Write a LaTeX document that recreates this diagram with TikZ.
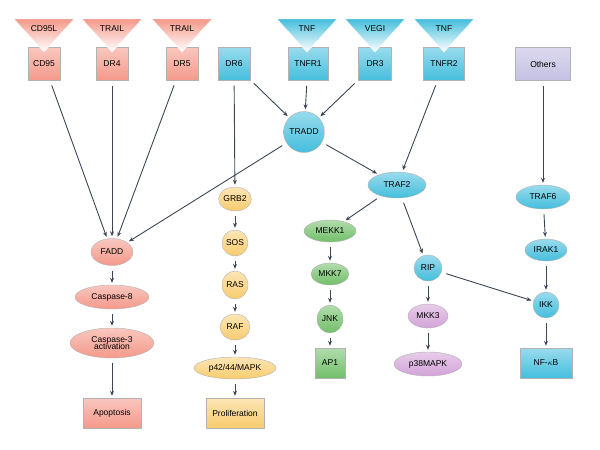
\documentclass[tikz,border=0pt]{standalone}
\usepackage{fontspec}
\setmainfont{Liberation Sans}
\usetikzlibrary{arrows.meta, shapes.geometric}
\definecolor{salmon}{HTML}{F4998A}
\definecolor{sky}{HTML}{45BEDD}
\definecolor{gold}{HTML}{F8CC6E}
\definecolor{leaf}{HTML}{72BF6A}
\definecolor{lilac}{HTML}{D3A3D8}
\definecolor{lav}{HTML}{C4C0E2}
\definecolor{wire}{HTML}{3B4654}
\tikzset{
  mol/.style={ellipse, draw=gray!60, inner sep=0pt, font=\fontsize{8.5}{9}\selectfont, align=center},
  box/.style={rectangle, draw=gray!60, inner sep=0pt, font=\fontsize{8.5}{9}\selectfont},
  red/.style={top color=salmon!55, bottom color=salmon},
  blue/.style={top color=sky!55, bottom color=sky},
  yel/.style={top color=gold!50, bottom color=gold},
  grn/.style={top color=leaf!55, bottom color=leaf},
  pur/.style={top color=lilac!55, bottom color=lilac},
  arr/.style={-{Stealth[length=5pt,width=4pt]}, draw=wire, line width=0.9pt, shorten >=2pt, shorten <=5pt}
}
\begin{document}
\begin{tikzpicture}[x=1pt,y=-1pt]
  \useasboundingbox (0,0) rectangle (600,450);
  % receptors
  \node[box,red,minimum width=32,minimum height=33] (cd95) at (44,64) {CD95};
  \node[box,red,minimum width=32,minimum height=33] (dr4) at (112,64) {DR4};
  \node[box,red,minimum width=32,minimum height=33] (dr5) at (182,64) {DR5};
  \node[box,blue,minimum width=32,minimum height=33] (dr6) at (234,64) {DR6};
  \node[box,blue,minimum width=40,minimum height=33] (tnfr1) at (308,64) {TNFR1};
  \node[box,blue,minimum width=33,minimum height=33] (dr3) at (375,64) {DR3};
  \node[box,blue,minimum width=41,minimum height=33] (tnfr2) at (444,64) {TNFR2};
  \node[box,top color=lav!60,bottom color=lav,minimum width=55,minimum height=33] (others) at (543,64) {Others};
  % ligands
  \foreach \x/\t/\c in {44/CD95L/salmon, 112/TRAIL/salmon, 182/TRAIL/salmon, 307/TNF/sky, 375/VEGI/sky, 444/TNF/sky}{
    \shade[top color=\c, bottom color=white, draw=white] (\x-30,19) -- (\x+30,19) -- (\x,52) -- cycle;
    \node[font=\fontsize{8.5}{9}\selectfont] at (\x,29) {\t};
  }
  % adaptors
  \node[mol,blue,circle,minimum size=41] (tradd) at (304,132) {TRADD};
  \node[mol,blue,minimum width=58,minimum height=26] (traf2) at (397,185) {TRAF2};
  \node[mol,blue,minimum width=54,minimum height=24] (traf6) at (543,197) {TRAF6};
  % apoptosis branch
  \node[mol,red,minimum width=42,minimum height=27] (fadd) at (112,252) {FADD};
  \node[mol,red,minimum width=74,minimum height=24] (casp8) at (112,297) {Caspase-8};
  \node[mol,red,minimum width=84,minimum height=30] (casp3) at (112,343) {Caspase-3\\[-2pt]activation};
  \node[box,red,minimum width=58,minimum height=30] (apop) at (112,413) {Apoptosis};
  % proliferation branch
  \node[mol,yel,minimum width=32,minimum height=24] (grb2) at (235,199) {GRB2};
  \node[mol,yel,minimum width=26,minimum height=26] (sos) at (235,243) {SOS};
  \node[mol,yel,minimum width=26,minimum height=28] (ras) at (235,285) {RAS};
  \node[mol,yel,minimum width=30,minimum height=26] (raf) at (235,327) {RAF};
  \node[mol,yel,minimum width=82,minimum height=22] (mapk) at (235,368) {p42/44/MAPK};
  \node[box,yel,minimum width=58,minimum height=30] (prolif) at (235,413) {Proliferation};
  % JNK branch
  \node[mol,grn,minimum width=52,minimum height=22] (mekk1) at (330,231) {MEKK1};
  \node[mol,grn,minimum width=38,minimum height=22] (mkk7) at (330,274) {MKK7};
  \node[mol,grn,minimum width=26,minimum height=28] (jnk) at (330,319) {JNK};
  \node[box,grn,minimum width=30,minimum height=30] (ap1) at (330,363) {AP1};
  % p38 branch
  \node[mol,blue,minimum width=28,minimum height=26] (rip) at (428,268) {RIP};
  \node[mol,pur,minimum width=40,minimum height=24] (mkk3) at (428,316) {MKK3};
  \node[mol,pur,minimum width=68,minimum height=24] (p38) at (428,364) {p38MAPK};
  % NF-kB branch
  \node[mol,blue,minimum width=42,minimum height=22] (irak1) at (546,250) {IRAK1};
  \node[mol,blue,minimum width=26,minimum height=26] (ikk) at (546,305) {IKK};
  \node[box,blue,minimum width=52,minimum height=30] (nfkb) at (546,363) {NF-$\kappa$B};
  % connectors
  \draw[arr] (cd95) -- (fadd);
  \draw[arr] (dr4) -- (fadd);
  \draw[arr] (dr5) -- (fadd);
  \draw[arr] (tradd) -- (fadd);
  \draw[arr] (dr6) -- (grb2);
  \draw[arr] (dr6) -- (tradd);
  \draw[arr] (tnfr1) -- (tradd);
  \draw[arr] (dr3) -- (tradd);
  \draw[arr] (tradd) -- (traf2);
  \draw[arr] (tnfr2) -- (traf2);
  \draw[arr] (traf2) -- (mekk1);
  \draw[arr] (traf2) -- (rip);
  \draw[arr] (others) -- (traf6);
  \draw[arr] (traf6) -- (irak1);
  \draw[arr] (irak1) -- (ikk);
  \draw[arr] (rip) -- (ikk);
  \draw[arr] (ikk) -- (nfkb);
  \draw[arr] (rip) -- (mkk3);
  \draw[arr] (mkk3) -- (p38);
  \draw[arr] (mekk1) -- (mkk7);
  \draw[arr] (mkk7) -- (jnk);
  \draw[arr] (jnk) -- (ap1);
  \draw[arr] (grb2) -- (sos);
  \draw[arr] (sos) -- (ras);
  \draw[arr] (ras) -- (raf);
  \draw[arr] (raf) -- (mapk);
  \draw[arr] (mapk) -- (prolif);
  \draw[arr] (fadd) -- (casp8);
  \draw[arr] (casp8) -- (casp3);
  \draw[arr] (casp3) -- (apop);
\end{tikzpicture}
\end{document}
